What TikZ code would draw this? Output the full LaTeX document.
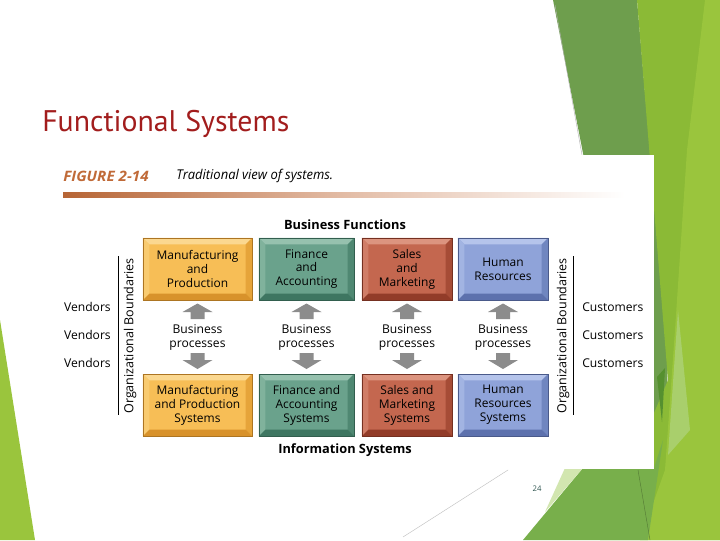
\documentclass[tikz,border=0pt]{standalone}
\usepackage{fontspec}
\setmainfont{Open Sans}
\newfontfamily\titlefont{PT Sans}
\usetikzlibrary{calc}
\definecolor{titlered}{HTML}{A21D1D}
\definecolor{figorange}{HTML}{C06A38}
\definecolor{dgreen}{HTML}{6E9E4D}
\definecolor{ygreen}{HTML}{8BBA36}
\definecolor{bgreen}{HTML}{9AC53D}
\definecolor{mgreen}{HTML}{78AF4B}
\definecolor{pgreen}{HTML}{D2E6B0}
\definecolor{lgreen}{HTML}{A9CF6C}
\definecolor{darkstripe}{HTML}{55902F}
\definecolor{arrowgray}{HTML}{8C8C8C}
\definecolor{pagecol}{HTML}{2F5550}
% orange
\definecolor{oface}{HTML}{F7BE56}\definecolor{otop}{HTML}{FBD890}\definecolor{oleft}{HTML}{F9CB70}\definecolor{oright}{HTML}{E6A43A}\definecolor{obot}{HTML}{D8922B}
% teal
\definecolor{tface}{HTML}{6AA28C}\definecolor{ttop}{HTML}{96C1AE}\definecolor{tleft}{HTML}{80B29C}\definecolor{tright}{HTML}{4F8872}\definecolor{tbot}{HTML}{3E7661}
% red
\definecolor{rface}{HTML}{C4674F}\definecolor{rtop}{HTML}{DC947F}\definecolor{rleft}{HTML}{D07D67}\definecolor{rright}{HTML}{A64C36}\definecolor{rbot}{HTML}{923C29}
% blue
\definecolor{bface}{HTML}{8FA3D9}\definecolor{btop}{HTML}{B5C4EB}\definecolor{bleft}{HTML}{A2B4E2}\definecolor{bright}{HTML}{7086C0}\definecolor{bbot}{HTML}{5D71AD}
\tikzset{
  bevbox/.style n args={5}{draw=#5!80!black, line width=0.3pt, fill=#1, inner sep=0pt,
    minimum height=1.55cm, align=center,
    font=\fontsize{8.5}{9.9}\selectfont,
    path picture={
      \coordinate (nw) at (path picture bounding box.north west);
      \coordinate (ne) at (path picture bounding box.north east);
      \coordinate (sw) at (path picture bounding box.south west);
      \coordinate (se) at (path picture bounding box.south east);
      \fill[#3] (nw) -- (ne) -- ($(ne)+(-4.5pt,-4.5pt)$) -- ($(nw)+(4.5pt,-4.5pt)$) -- cycle;
      \fill[#4] (nw) -- ($(nw)+(4.5pt,-4.5pt)$) -- ($(sw)+(4.5pt,4.5pt)$) -- (sw) -- cycle;
      \fill[#2] (ne) -- ($(ne)+(-4.5pt,-4.5pt)$) -- ($(se)+(-4.5pt,4.5pt)$) -- (se) -- cycle;
      \fill[#5] (sw) -- ($(sw)+(4.5pt,4.5pt)$) -- ($(se)+(-4.5pt,4.5pt)$) -- (se) -- cycle;
    }},
  obox/.style={bevbox={oface}{oright}{otop}{oleft}{obot}},
  tbox/.style={bevbox={tface}{tright}{ttop}{tleft}{tbot}},
  rbox/.style={bevbox={rface}{rright}{rtop}{rleft}{rbot}},
  bbox/.style={bevbox={bface}{bright}{btop}{bleft}{bbot}},
  sidelabel/.style={font=\fontsize{8.6}{10}\selectfont, inner sep=0pt},
  proclabel/.style={font=\fontsize{8.6}{10.4}\selectfont, align=center, inner sep=0pt},
  headlabel/.style={font=\bfseries\fontsize{9.1}{10}\selectfont, inner sep=0pt},
  orglabel/.style={font=\fontsize{8.9}{10}\selectfont, rotate=90, inner sep=0pt},
  blockarrow/.style={fill=arrowgray, draw=none},
}
\begin{document}
\begin{tikzpicture}[x=0.025cm, y=-0.025cm]
\useasboundingbox (0,0) rectangle (720,540);
\fill[white] (0,0) rectangle (720,540);
% background decorations
\fill[bgreen] (0,320) -- (35,540) -- (0,540) -- cycle;
\fill[dgreen] (553,0) -- (637,0) -- (668,360) -- (664,470) -- (600,240) -- cycle;
\fill[ygreen] (637,0) -- (720,0) -- (720,540) -- (600,540) -- (668,380) -- cycle;
\fill[bgreen] (705,0) -- (720,0) -- (720,540) -- (640,540) -- (665,470) -- (675,330) -- (687,150) -- cycle;
\fill[lgreen] (678,310) -- (690,430) -- (668,455) -- cycle;
\fill[darkstripe] (657,377) -- (665,368) -- (662,422) -- cycle;
\fill[mgreen] (583,468) -- (654,468) -- (663,440) -- (648,540) -- (523,540) -- cycle;
\fill[pgreen] (565,468) -- (583,468) -- (545,512) -- cycle;
\draw[gray!60, line width=0.3pt] (555,5) -- (582,155);
\draw[gray!50, line width=0.3pt] (403,537) -- (508,470);
\draw[mgreen!70!black, line width=0.3pt] (638,470) -- (650,540);
% white figure panel
\fill[white] (45,155) rectangle (654,469);
% title
\node[anchor=west, inner sep=0pt, text=titlered, font=\titlefont\fontsize{21.2}{24}\selectfont] (title) at (42,124) {Functional Systems};
% figure caption
\node[anchor=west, inner sep=0pt, text=figorange, font=\bfseries\itshape\fontsize{10.2}{11}\selectfont] (fig) at (63,176) {\scalebox{1.06}[1]{FIGURE 2-14}};
\node[anchor=west, inner sep=0pt, font=\itshape\fontsize{9.6}{11}\selectfont] (cap) at (176,176) {\scalebox{0.96}[1]{Traditional view of systems.}};
\shade[left color=figorange!95!black, right color=white, middle color=figorange!45] (63,192.5) rectangle (625,197.5);
% headings
\node[headlabel] (bf) at (345,225) {Business Functions};
\node[headlabel] (is) at (345,450) {Information Systems};
% top row
\node[obox, minimum width=2.725cm] (f1) at (197.5,269) {Manufacturing\\and\\Production};
\node[tbox, minimum width=2.375cm] (f2) at (306.5,269) {Finance\\and\\Accounting};
\node[rbox, minimum width=2.25cm] (f3) at (407,269) {Sales\\and\\Marketing};
\node[bbox, minimum width=2.25cm] (f4) at (503,269) {Human\\Resources};
% bottom row
\node[obox, minimum width=2.725cm] (s1) at (197.5,405) {Manufacturing\\and Production\\Systems};
\node[tbox, minimum width=2.375cm] (s2) at (306.5,405) {Finance and\\Accounting\\Systems};
\node[rbox, minimum width=2.25cm] (s3) at (407,405) {Sales and\\Marketing\\Systems};
\node[bbox, minimum width=2.25cm] (s4) at (503,405) {Human\\Resources\\Systems};
% business processes with arrows
\foreach \cx/\n in {197.5/1,306.5/2,407/3,503/4}{
  \node[proclabel] (p\n) at (\cx,337.5) {Business\\processes};
  \fill[blockarrow] (\cx-7,319) -- (\cx-7,312) -- (\cx-15,312) -- (\cx,303.5) -- (\cx+15,312) -- (\cx+7,312) -- (\cx+7,319) -- cycle;
  \fill[blockarrow] (\cx-7,353) -- (\cx-7,360) -- (\cx-15,360) -- (\cx,369) -- (\cx+15,360) -- (\cx+7,360) -- (\cx+7,353) -- cycle;
}
% vendors and customers
\foreach \yy/\n in {307/1,335/2,363/3}{
  \node[sidelabel, anchor=east] (v\n) at (111,\yy) {Vendors};
  \node[sidelabel, anchor=west] (c\n) at (582,\yy) {Customers};
}
% organizational boundaries
\coordinate (lb1) at (118,256);
\coordinate (lb2) at (118,415);
\coordinate (rb1) at (573,256);
\coordinate (rb2) at (573,415);
\draw[line width=0.7pt] (lb1) -- (lb2);
\draw[line width=0.7pt] (rb1) -- (rb2);
\node[orglabel] (ol) at (130,336) {Organizational Boundaries};
\node[orglabel] (or) at (563,336) {Organizational Boundaries};
% page number
\node[inner sep=0pt, text=pagecol, font=\fontsize{5.5}{6}\selectfont] (pg) at (537,489) {24};
\end{tikzpicture}
\end{document}
